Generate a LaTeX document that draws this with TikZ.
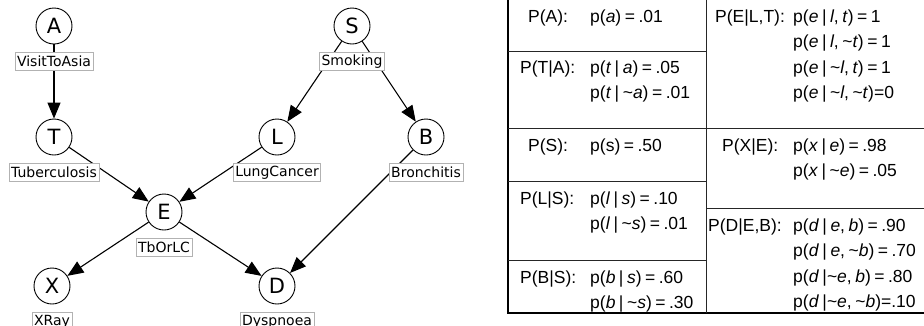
\documentclass[tikz,border=0pt]{standalone}
\usepackage{fontspec}
\setmainfont{Liberation Sans}
\newfontfamily\netfont{DejaVu Sans}
\usetikzlibrary{arrows.meta, positioning}
\newcommand{\negv}{\textasciitilde}
\newcommand{\cptfont}{\fontsize{17.5}{25.5}\selectfont\spaceskip=0.2em\relax}

\begin{document}
\begin{tikzpicture}[x=1pt, y=-1pt,
      var/.style = {circle, draw, line width=0.9pt, minimum size=36pt, inner sep=0pt, font=\netfont\fontsize{21}{24}\selectfont},
      lbl/.style = {draw=black!30, fill=white, line width=0.6pt, inner sep=2pt, minimum height=18pt, font=\netfont\fontsize{14}{16}\selectfont},
      dep/.style = {-{Triangle[length=16pt, width=13pt]}, line width=1.1pt},
      cpt/.style = {anchor=base west, inner sep=0pt, align=left, font=\cptfont},
      rule/.style = {line width=0.8pt, draw=black!85} ]
    \useasboundingbox (0,0) rectangle (924,325);

    % network
    \node[var] (A) at (54,26) {A};
    \node[var] (S) at (352,26) {S};
    \node[var] (T) at (54,137) {T};
    \node[var] (L) at (277,137) {L};
    \node[var] (B) at (426,137) {B};
    \node[var] (E) at (164,212) {E};
    \node[var] (X) at (52,286) {X};
    \node[var] (D) at (277,286) {D};
    \draw[dep] (A) -- (T);  \draw[dep] (S) -- (L);  \draw[dep] (S) -- (B);
    \draw[dep] (T) -- (E);  \draw[dep] (L) -- (E);  \draw[dep] (B) -- (D);
    \draw[dep] (E) -- (X);  \draw[dep] (E) -- (D);
    \node[lbl, below=8pt of A] (lA) {VisitToAsia};
    \node[lbl, below=8pt of S] (lS) {Smoking};
    \node[lbl, below=8pt of T] (lT) {Tuberculosis};
    \node[lbl, below=8pt of L] (lL) {LungCancer};
    \node[lbl, below=8pt of B] (lB) {Bronchitis};
    \node[lbl, below=8pt of E] (lE) {TbOrLC};
    \node[lbl, below=8pt of X] (lX) {XRay};
    \node[lbl, below=8pt of D] (lD) {Dyspnoea};

    % probability tables (multi-line cells sit on their last baseline)
    \draw[line width=2pt] (508,0) -- (508,313) -- (924,313);
    \draw[rule] (706,0) -- (706,313);
    \draw[rule] (508,51) -- (706,51);
    \draw[rule] (508,128) -- (924,128);
    \draw[rule] (508,181) -- (706,181);
    \draw[rule] (508,260) -- (706,260);
    \draw[rule] (706,208) -- (924,208);

    \node[cpt] (pA) at (528,22) {P(A):};
    \node[cpt] (vA) at (590,22) {p(\textit{a}) = .01};
    \node[cpt] (pT) at (520,73) {P(T|A):};
    \node[cpt] (vT) at (590,98.5) {p(\textit{t} | \textit{a}) = .05\\p(\textit{t} | \negv\textit{a}) = .01};
    \node[cpt] (pS) at (528,151) {P(S):};
    \node[cpt] (vS) at (590,151) {p(s) = .50};
    \node[cpt] (pL) at (520,204) {P(L|S):};
    \node[cpt] (vL) at (590,229.5) {p(\textit{l} | \textit{s}) = .10\\p(\textit{l} | \negv\textit{s}) = .01};
    \node[cpt] (pB) at (520,283) {P(B|S):};
    \node[cpt] (vB) at (590,308.5) {p(\textit{b} | \textit{s}) = .60\\p(\textit{b} | \negv\textit{s}) = .30};
    \node[cpt] (pE) at (715,22) {P(E|L,T):};
    \node[cpt] (vE) at (793,98.5) {p(\textit{e} | \textit{l}, \textit{t}) = 1\\p(\textit{e} | \textit{l}, \negv\textit{t}) = 1\\p(\textit{e} | \negv\textit{l}, \textit{t}) = 1\\p(\textit{e} | \negv\textit{l}, \negv\textit{t})=0};
    \node[cpt] (pX) at (722,151) {P(X|E):};
    \node[cpt] (vX) at (793,176.5) {p(\textit{x} | \textit{e}) = .98\\p(\textit{x} | \negv\textit{e}) = .05};
    \node[cpt] (pD) at (708,231) {P(D|E,B):};
    \node[cpt] (vD) at (793,307.5) {p(\textit{d} | \textit{e}, \textit{b}) = .90\\p(\textit{d} | \textit{e}, \negv\textit{b}) = .70\\p(\textit{d} |\negv\textit{e}, \textit{b}) = .80\\p(\textit{d} |\negv\textit{e}, \negv\textit{b})=.10};
  \end{tikzpicture}
\end{document}
